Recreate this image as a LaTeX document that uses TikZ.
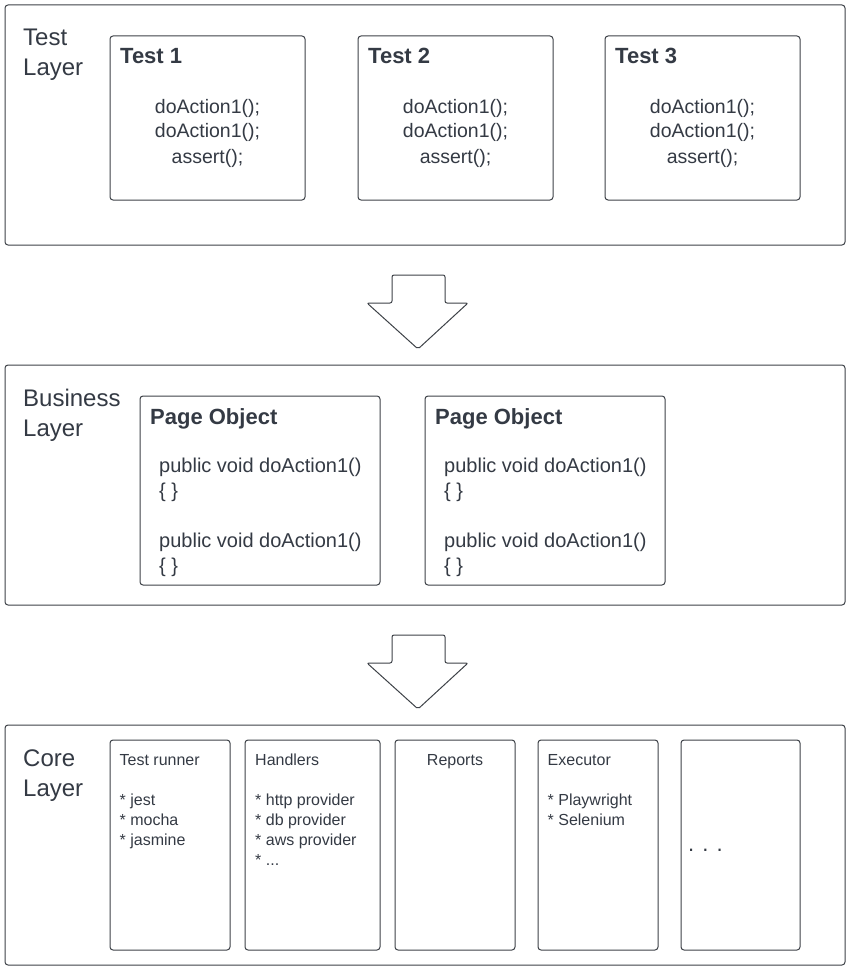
\documentclass[tikz,border=0pt]{standalone}
\usepackage{fontspec}
\setmainfont{Liberation Sans}
\usetikzlibrary{positioning}
\definecolor{inkgray}{RGB}{52,58,68}
\definecolor{linegray}{RGB}{62,66,72}

\begin{document}
\begin{tikzpicture}[x=1pt,y=-1pt,
		layerbox/.style={draw=linegray,line width=1pt,rounded corners=3pt,inner sep=0pt},
		itembox/.style={draw=linegray,line width=1pt,rounded corners=3pt,inner sep=0pt},
		txt/.style={inner sep=0pt,text=inkgray},
		bigarrow/.style={draw=linegray,line width=1pt,fill=white,rounded corners=2pt}]
		\useasboundingbox[fill=white](0,0)rectangle(851,971);

		% test layer
		\node[layerbox,minimum width=840pt,minimum height=240pt] at (425,125)(testlayer){};
		\node[txt,anchor=base west,align=left,font=\fontsize{24}{30}\selectfont] at (23,76)(testlbl){Test\\Layer};
		\node[itembox,minimum width=195pt,minimum height=164pt] at (207.5,118)(test1){};
		\node[itembox,minimum width=195pt,minimum height=164pt] at (455.5,118)(test2){};
		\node[itembox,minimum width=195pt,minimum height=164pt] at (702.5,118)(test3){};
		\node[txt,anchor=base west,font=\fontsize{22}{26}\bfseries] at (120,64)(test1name){Test 1};
		\node[txt,anchor=base west,font=\fontsize{22}{26}\bfseries] at (368,64)(test2name){Test 2};
		\node[txt,anchor=base west,font=\fontsize{22}{26}\bfseries] at (615,64)(test3name){Test 3};
		\node[txt,anchor=base,align=center,font=\fontsize{19.5}{25}\selectfont] at (207.5,163)(test1body){doAction1();\\doAction1();\\assert();};
		\node[txt,anchor=base,align=center,font=\fontsize{19.5}{25}\selectfont] at (455.5,163)(test2body){doAction1();\\doAction1();\\assert();};
		\node[txt,anchor=base,align=center,font=\fontsize{19.5}{25}\selectfont] at (702.5,163)(test3body){doAction1();\\doAction1();\\assert();};

		\draw[bigarrow](392,275)--(445,275)--(445,303)--(468,303)--(418,349)--(367,303)--(392,303)--cycle;

		% business layer
		\node[layerbox,minimum width=840pt,minimum height=240pt] at (425,485)(busilayer){};
		\node[txt,anchor=base west,align=left,font=\fontsize{24}{30}\selectfont] at (23,436)(busilbl){Business\\Layer};
		\node[itembox,minimum width=240pt,minimum height=189pt] at (260,490.5)(page1){};
		\node[itembox,minimum width=240pt,minimum height=189pt] at (545,490.5)(page2){};
		\node[txt,anchor=base west,font=\fontsize{22}{26}\bfseries] at (150,424)(page1name){Page Object};
		\node[txt,anchor=base west,font=\fontsize{22}{26}\bfseries] at (435,424)(page2name){Page Object};
		\node[txt,anchor=base west,align=left,font=\fontsize{20}{25}\selectfont] at (159,572)(page1body){public void doAction1()\\\{ \}\\[25pt]public void doAction1()\\\{ \}};
		\node[txt,anchor=base west,align=left,font=\fontsize{20}{25}\selectfont] at (444,572)(page2body){public void doAction1()\\\{ \}\\[25pt]public void doAction1()\\\{ \}};

		\draw[bigarrow](392,635)--(445,635)--(445,663)--(468,663)--(418,709)--(367,663)--(392,663)--cycle;

		% core layer
		\node[layerbox,minimum width=840pt,minimum height=240pt] at (425,845)(corelayer){};
		\node[txt,anchor=base west,align=left,font=\fontsize{24}{30}\selectfont] at (23,796)(corelbl){Core\\Layer};
		\node[itembox,minimum width=120pt,minimum height=210pt] at (170,845)(runner){};
		\node[itembox,minimum width=135pt,minimum height=210pt] at (312.5,845)(handlers){};
		\node[itembox,minimum width=120pt,minimum height=210pt] at (455,845)(reports){};
		\node[itembox,minimum width=120pt,minimum height=210pt] at (598,845)(executor){};
		\node[itembox,minimum width=119pt,minimum height=210pt] at (740.5,845)(more){};
		\node[txt,anchor=base west,align=left,font=\fontsize{16}{20}\selectfont] at (119.5,845)(runnertxt){Test runner\\[20pt]* jest\\* mocha\\* jasmine};
		\node[txt,anchor=base west,align=left,font=\fontsize{16}{20}\selectfont] at (255,865)(handlerstxt){Handlers\\[20pt]* http provider\\* db provider\\* aws provider\\* ...};
		\node[txt,anchor=base,font=\fontsize{16}{20}\selectfont] at (455,765)(reportstxt){Reports};
		\node[txt,anchor=base west,align=left,font=\fontsize{16}{20}\selectfont] at (547.5,825)(executortxt){Executor\\[20pt]* Playwright\\* Selenium};
		\node[txt,anchor=base west,font=\fontsize{22}{26}\selectfont] at (688,851)(moretxt){. . .};
	\end{tikzpicture}
\end{document}
